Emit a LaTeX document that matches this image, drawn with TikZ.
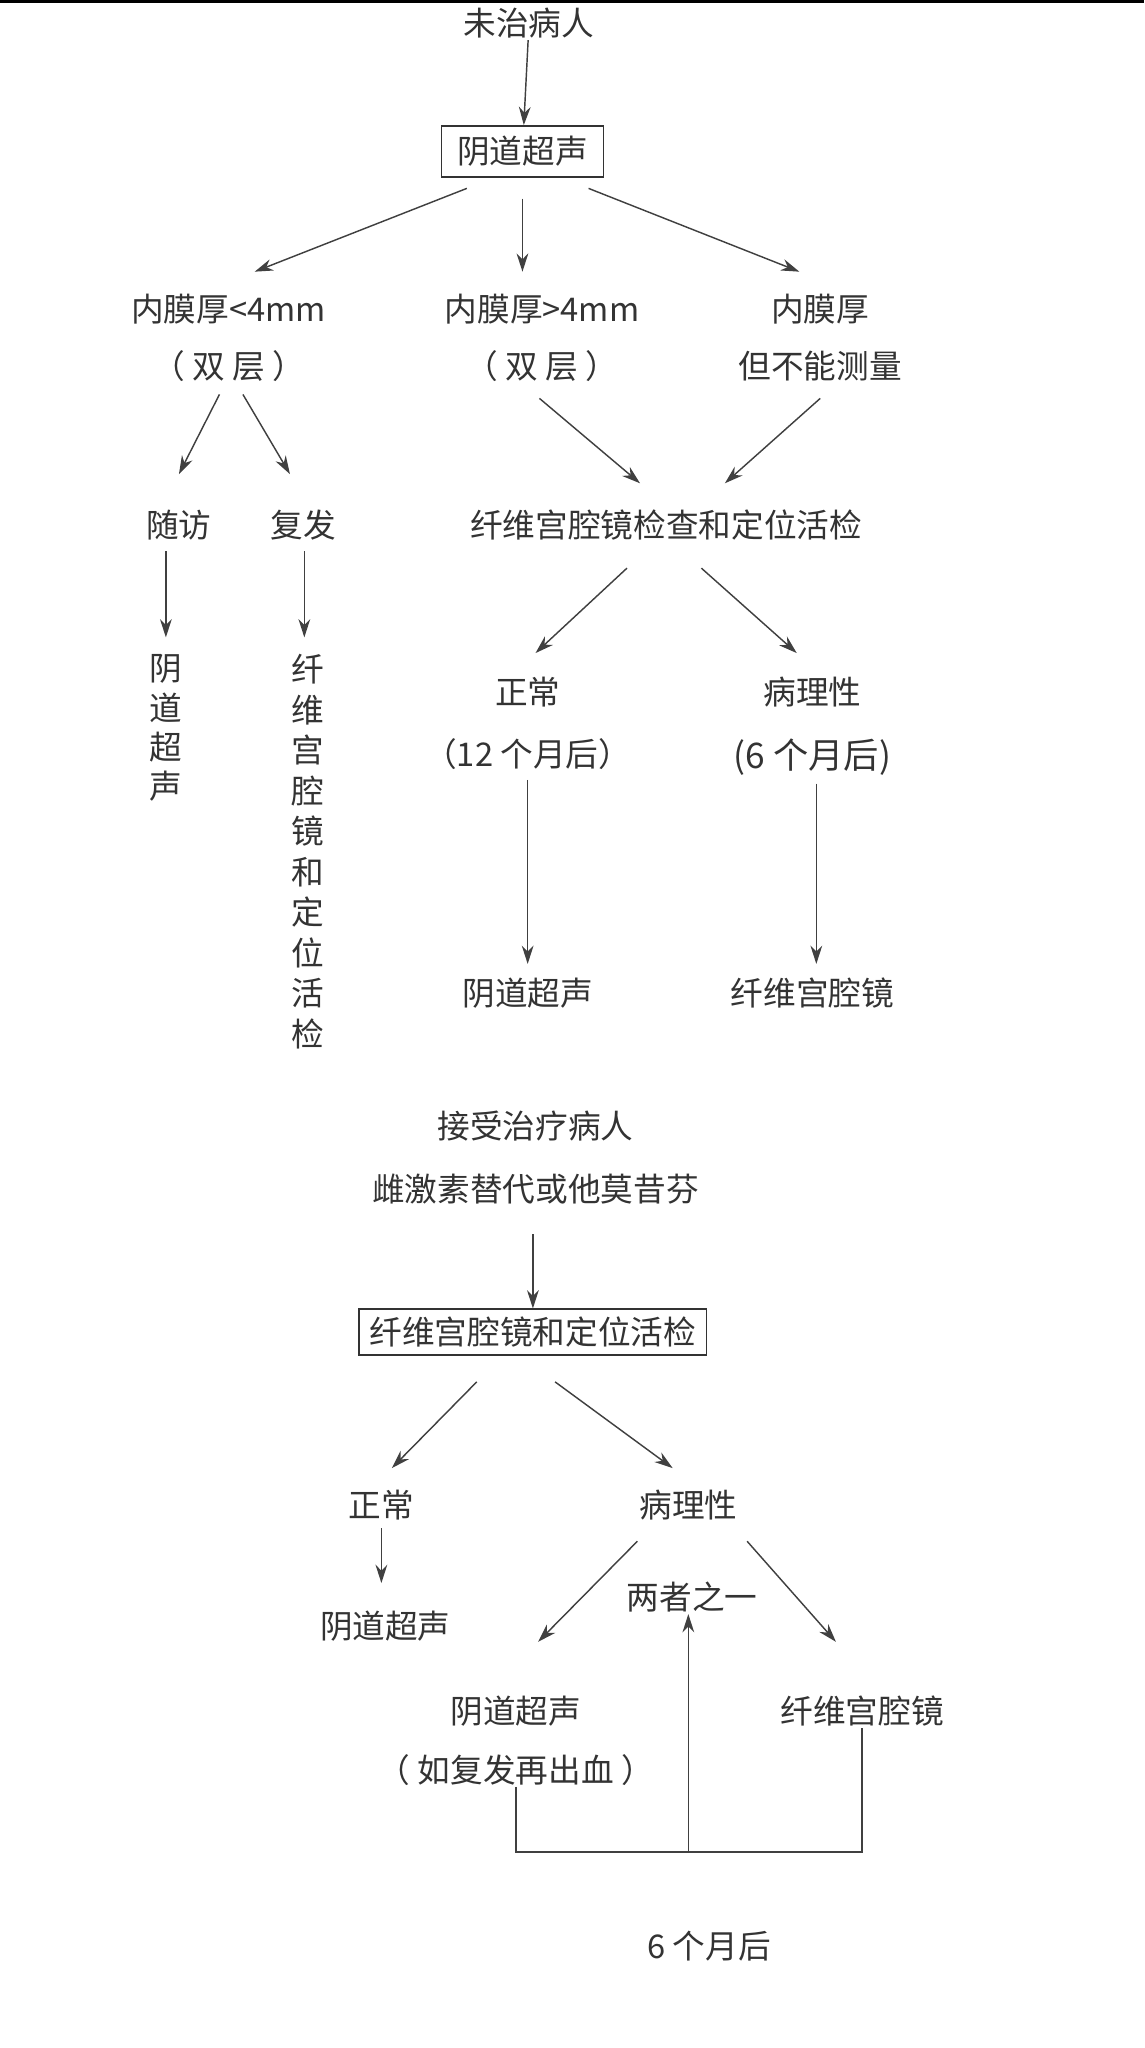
\documentclass[tikz,border=0pt]{standalone}
\usepackage{fontspec}
\setmainfont{Noto Sans CJK SC}
\usetikzlibrary{arrows.meta}
\begin{document}
\begin{tikzpicture}[x=1pt,y=-1pt,
  txt/.style={font=\fontsize{25}{30}\selectfont, text=black!80, inner sep=1pt, align=center},
  boxed/.style={txt, draw=black!80, line width=1.2pt, inner xsep=12pt, inner ysep=8pt},
  arr/.style={draw=black!75, line width=1.1pt, -{Stealth[length=14pt,width=9pt]}},
  ln/.style={draw=black!75, line width=1.1pt}]
\useasboundingbox[fill=white] (0,0) rectangle (876,1568);
\draw[line width=2pt] (0,1) -- (876,1);
% top chart
\node[txt] (a) at (405,18) {未治病人};
\node[boxed] (b) at (400,116) {阴道超声};
\node[txt] (c1) at (175,237) {内膜厚<4mm};
\node[txt] (c1b) at (175,280) {（ 双 层 ）};
\node[txt] (c2) at (415,237) {内膜厚>4mm};
\node[txt] (c2b) at (415,280) {（ 双 层 ）};
\node[txt] (c3) at (628,237) {内膜厚};
\node[txt] (c3b) at (628,280) {但不能测量};
\node[txt] (d1) at (137,402) {随访};
\node[txt] (d2) at (232,402) {复发};
\node[txt] (d3) at (510,402) {纤维宫腔镜检查和定位活检};
\node[txt, font=\fontsize{25}{30}\selectfont, anchor=north] (e1) at (127,500) {阴\\道\\超\\声};
\node[txt, font=\fontsize{25}{31}\selectfont, anchor=north] (e2) at (236,500) {纤\\维\\宫\\腔\\镜\\和\\定\\位\\活\\检};
\node[txt] (f1) at (404,530) {正常};
\node[txt] (f1b) at (404,577) {（12 个月后）};
\node[txt] (f2) at (622,530) {病理性};
\node[txt, font=\fontsize{27}{30}\selectfont] (f2b) at (622,580) {(6 个月后)};
\node[txt] (g1) at (404,760) {阴道超声};
\node[txt] (g2) at (622,760) {纤维宫腔镜};
\draw[arr] (a) -- (b);
\draw[arr] (b.south west)+(20,8) -- (195,208);
\draw[arr] (400,152) -- (400,208);
\draw[arr] (b.south east)+(-12,8) -- (612,208);
\draw[arr] (168,302) -- (137,363);
\draw[arr] (186,302) -- (222,363);
\draw[arr] (413,305) -- (490,370);
\draw[arr] (628,305) -- (555,370);
\draw[arr] (127,422) -- (127,488);
\draw[arr] (233,422) -- (233,488);
\draw[arr] (480,435) -- (410,500);
\draw[arr] (537,435) -- (610,500);
\draw[arr] (404,597) -- (404,738);
\draw[arr] (625,600) -- (625,738);
% bottom chart
\node[txt] (h1) at (410,862) {接受治疗病人};
\node[txt] (h2) at (410,910) {雌激素替代或他莫昔芬};
\node[boxed, inner xsep=8pt, inner ysep=6pt] (i) at (408,1020) {纤维宫腔镜和定位活检};
\node[txt] (j1) at (292,1152) {正常};
\node[txt] (j2) at (527,1152) {病理性};
\node[txt] (k1) at (295,1245) {阴道超声};
\node[txt] (k2) at (530,1223) {两者之一};
\node[txt] (l1) at (395,1310) {阴道超声};
\node[txt] (l1b) at (395,1355) {（ 如复发再出血 ）};
\node[txt] (l2) at (660,1310) {纤维宫腔镜};
\node[txt] (m) at (543,1490) {6 个月后};
\draw[arr] (408,945) -- (i);
\draw[arr] (365,1058) -- (300,1124);
\draw[arr] (425,1058) -- (515,1124);
\draw[arr] (292,1170) -- (292,1212);
\draw[arr] (488,1180) -- (412,1257);
\draw[arr] (572,1180) -- (640,1257);
\coordinate (p1) at (395,1418);
\coordinate (p2) at (660,1418);
\coordinate (pm) at (527,1418);
\draw[ln] (l1b.south -| p1) -- (p1) -- (p2) -- (l2.south -| p2);
\draw[arr] (pm) -- (k2.south -| pm);
\end{tikzpicture}
\end{document}
